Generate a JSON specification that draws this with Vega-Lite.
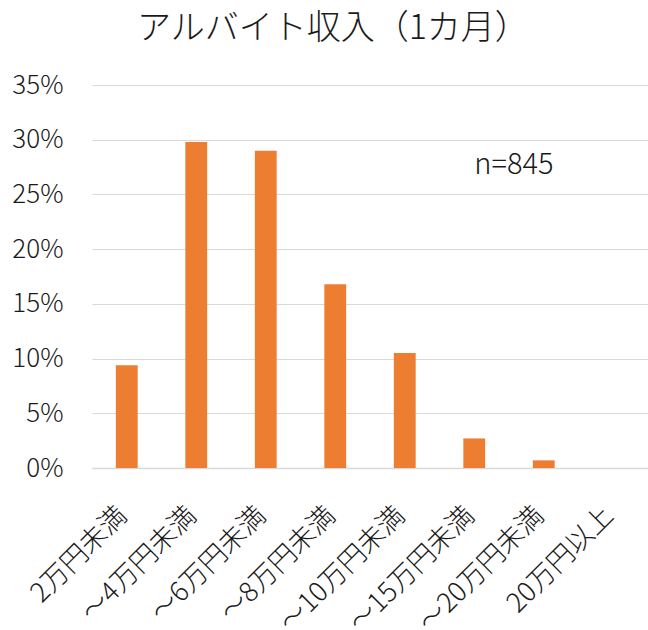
{
  "$schema": "https://vega.github.io/schema/vega-lite/v6.json",
  "width": 556,
  "height": 383,
  "autosize": {"type": "none"},
  "padding": {"left": 92, "top": 85, "right": 0, "bottom": 162},
  "background": "white",
  "title": {
    "text": "アルバイト収入（1カ月）",
    "font": "Noto Sans CJK JP",
    "fontSize": 34,
    "fontWeight": 300,
    "color": "#1a1a1a",
    "anchor": "start",
    "frame": "group",
    "dx": 45,
    "offset": 26
  },
  "config": {
    "view": {"stroke": null},
    "font": "Noto Sans CJK JP"
  },
  "data": {
    "values": [
      {"category": "2万円未満", "value": 0.094},
      {"category": "～4万円未満", "value": 0.298},
      {"category": "～6万円未満", "value": 0.290},
      {"category": "～8万円未満", "value": 0.168},
      {"category": "～10万円未満", "value": 0.105},
      {"category": "～15万円未満", "value": 0.027},
      {"category": "～20万円未満", "value": 0.007},
      {"category": "20万円以上", "value": 0.0}
    ]
  },
  "layer": [
    {
      "mark": {"type": "bar", "color": "#ED7D31"},
      "encoding": {
        "x": {
          "field": "category",
          "type": "nominal",
          "sort": null,
          "scale": {
            "domain": ["2万円未満", "～4万円未満", "～6万円未満", "～8万円未満", "～10万円未満", "～15万円未満", "～20万円未満", "20万円以上"],
            "paddingInner": 0.686,
            "paddingOuter": 0.343
          },
          "axis": {
            "title": null,
            "labelAngle": -45,
            "labelAlign": "right",
            "labelBaseline": "middle",
            "labelFontSize": 27,
            "labelFontWeight": 300,
            "labelColor": "#1a1a1a",
            "labelPadding": 43,
            "labelOffset": -4,
            "ticks": false,
            "domainColor": "#D9D9D9",
            "domainWidth": 1.5,
            "labelLimit": 300
          }
        },
        "y": {
          "field": "value",
          "type": "quantitative",
          "scale": {"domain": [0, 0.35]},
          "axis": {
            "title": null,
            "format": ".0%",
            "values": [0, 0.05, 0.1, 0.15, 0.2, 0.25, 0.3, 0.35],
            "labelFontSize": 26,
            "labelFontWeight": 300,
            "labelColor": "#1a1a1a",
            "labelPadding": 29,
            "ticks": false,
            "domain": false,
            "gridColor": "#D9D9D9",
            "gridWidth": 1
          }
        }
      }
    },
    {
      "data": {"values": [{"label": "n=845", "category": "～15万円未満", "y": 0.277}]},
      "mark": {"type": "text", "align": "left", "baseline": "middle", "fontSize": 29, "fontWeight": 300, "color": "#1a1a1a"},
      "encoding": {
        "x": {"field": "category", "type": "nominal"},
        "y": {"field": "y", "type": "quantitative"},
        "text": {"field": "label"}
      }
    }
  ]
}
